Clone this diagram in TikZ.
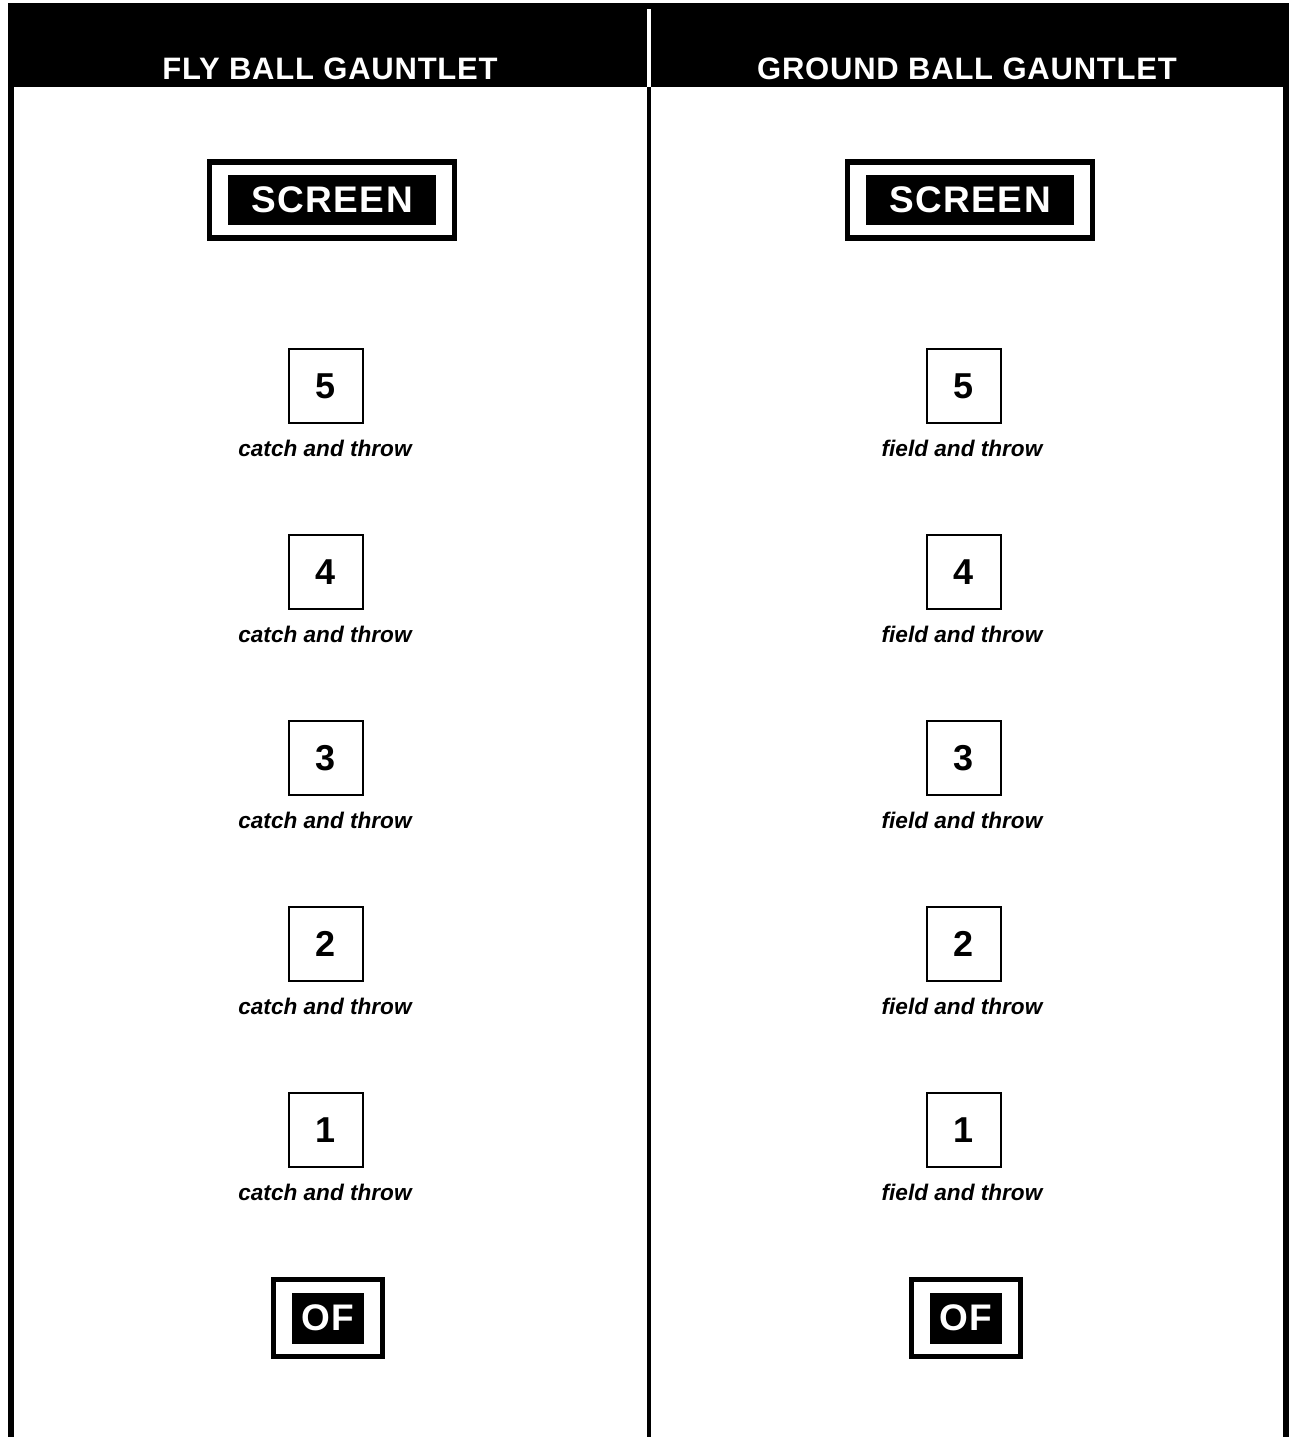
\documentclass[tikz,border=0pt]{standalone}
\usepackage{fontspec}
\setmainfont{Liberation Sans}
\newfontfamily\headfont[LetterSpace=2.5]{Liberation Sans}
\newfontfamily\tagfont[LetterSpace=4]{Liberation Sans}
\usetikzlibrary{positioning,fit}
\tikzset{
  head/.style ={font=\headfont\bfseries\fontsize{15.5}{18}\selectfont, text=white, anchor=base, inner sep=0pt},
  tag/.style  ={fill=black, text=white, font=\tagfont\bfseries\fontsize{18.5}{21}\selectfont, inner sep=0pt},
  frame/.style={draw, line width=2.75pt, inner xsep=9pt, inner ysep=6.3pt},
  post/.style ={draw, line width=1pt, minimum size=37pt, inner sep=0pt, font=\bfseries\fontsize{18}{21}\selectfont},
  lbl/.style  ={font=\bfseries\itshape\fontsize{11.3}{13}\selectfont, anchor=base, inner sep=0pt},
  rule/.style ={line width=#1}
}

\begin{document}
\begin{tikzpicture}[x=0.5pt,y=-0.5pt]
  \useasboundingbox (0,0) rectangle (1289,1437);
  % header band and column rules
  \fill (8,3) rectangle (1289,87);
  \draw[white, rule=2pt] (649,9) -- (649,87);
  \draw[rule=3pt] (11,87) -- (11,1437);
  \draw[rule=2pt] (649,87) -- (649,1437);
  \draw[rule=3pt] (1286,87) -- (1286,1437);
  \node[head] (flyhd) at (330,79) {FLY BALL GAUNTLET};
  \node[head] (grdhd) at (967,79) {GROUND BALL GAUNTLET};
  % screens
  \node[tag, minimum width=104pt, minimum height=25pt] (flyscr) at (332,200) {SCREEN};
  \node[tag, minimum width=104pt, minimum height=25pt] (grdscr) at (970,200) {SCREEN};
  \node[frame, fit=(flyscr)] (flyscrbox) {};
  \node[frame, fit=(grdscr)] (grdscrbox) {};
  % stations
  \foreach \n [count=\i] in {5,4,3,2,1} {
    \node[post] (fly\n) at (326,{386+186*(\i-1)}) {\n};
    \node[post] (grd\n) at (964,{386+186*(\i-1)}) {\n};
    \node[lbl] (flyl\n) at (325,{456+186*(\i-1)}) {catch and throw};
    \node[lbl] (grdl\n) at (962,{456+186*(\i-1)}) {field and throw};
  }
  % outfielders
  \node[tag, minimum width=36pt, minimum height=25.5pt] (flyof) at (328,1318) {OF};
  \node[tag, minimum width=36pt, minimum height=25.5pt] (grdof) at (966,1318) {OF};
  \node[frame, fit=(flyof)] (flyofbox) {};
  \node[frame, fit=(grdof)] (grdofbox) {};
\end{tikzpicture}
\end{document}
